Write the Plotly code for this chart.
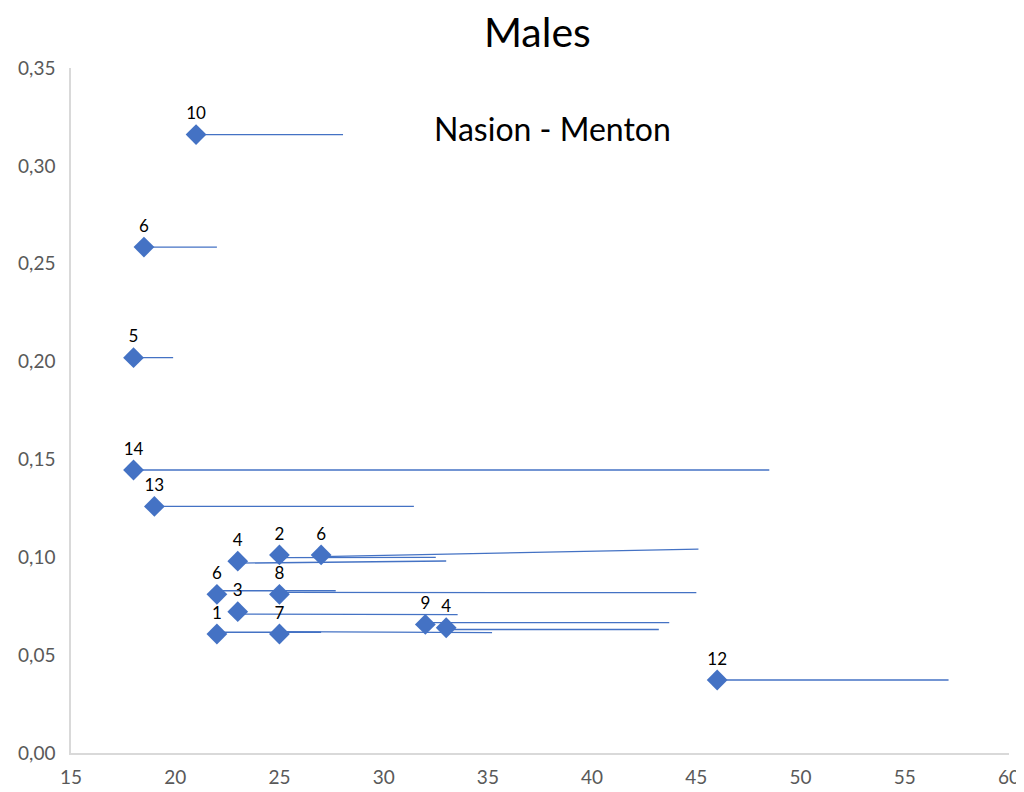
import plotly.graph_objects as go

# Point labels (sample sizes), positions and the end of each horizontal segment
labels = ["10", "6", "5", "14", "13", "4", "2", "6", "6", "8", "3", "1", "7", "9", "4", "12"]
x_vals = [21.0, 18.5, 18.0, 18.0, 19.0, 23.0, 25.0, 27.0, 22.0, 25.0, 23.0, 22.0, 25.0, 32.0, 33.0, 46.0]
y_vals = [0.316, 0.2585, 0.202, 0.1446, 0.126, 0.098, 0.1012, 0.1012, 0.0811, 0.0811, 0.0722, 0.0608, 0.0608, 0.0657, 0.0640, 0.0373]
line_y_start = [0.316, 0.2585, 0.202, 0.1446, 0.126, 0.0970, 0.0998, 0.1003, 0.0829, 0.0821, 0.0710, 0.0617, 0.0620, 0.0666, 0.0631, 0.0373]
line_x_end = [28.05, 22.0, 19.9, 48.5, 31.45, 33.0, 32.5, 45.1, 27.7, 45.0, 33.55, 27.0, 35.2, 43.7, 43.2, 57.1]
line_y_end = [0.316, 0.2585, 0.202, 0.1446, 0.126, 0.0981, 0.1000, 0.1042, 0.0829, 0.0819, 0.0707, 0.0617, 0.0615, 0.0666, 0.0631, 0.0373]

x_ticks = [15, 20, 25, 30, 35, 40, 45, 50, 55, 60]
y_ticks = [0.0, 0.05, 0.10, 0.15, 0.20, 0.25, 0.30, 0.35]

BLUE = "#4472C4"
FONT = "Lato"

fig = go.Figure()

for i in range(len(labels)):
    fig.add_trace(go.Scatter(
        x=[x_vals[i], line_x_end[i]],
        y=[line_y_start[i], line_y_end[i]],
        mode="lines",
        line=dict(color=BLUE, width=1.3),
        showlegend=False,
        hoverinfo="skip",
    ))

fig.add_trace(go.Scatter(
    x=x_vals,
    y=y_vals,
    mode="markers+text",
    text=labels,
    textposition="top center",
    textfont=dict(family=FONT, size=17, color="#000000"),
    marker=dict(symbol="diamond", size=16, color=BLUE),
    showlegend=False,
))

fig.add_annotation(
    x=38.1, y=0.319, xref="x", yref="y",
    text="Nasion - Menton", showarrow=False,
    font=dict(family=FONT, size=32, color="#000000"),
)

fig.update_layout(
    width=1016, height=784,
    separators=", ",
    paper_bgcolor="white", plot_bgcolor="white",
    margin=dict(l=63, r=15, t=60, b=39),
    title=dict(text="Males", x=0.521, xanchor="center", y=0.969, yanchor="middle",
               font=dict(family=FONT, size=41, color="#000000")),
    font=dict(family=FONT),
)

fig.update_xaxes(
    range=[15, 60], tickvals=x_ticks, ticktext=[str(t) for t in x_ticks],
    showgrid=False, zeroline=False, showline=True, linecolor="#D9D9D9", linewidth=1.5,
    ticks="", tickfont=dict(family=FONT, size=19, color="#595959"), ticklabelstandoff=6,
    automargin=False,
)
fig.update_yaxes(
    range=[0, 0.35], tickvals=y_ticks, tickformat=".2f",
    showgrid=False, zeroline=False, showline=True, linecolor="#D9D9D9", linewidth=1.5,
    ticks="", tickfont=dict(family=FONT, size=19, color="#595959"), ticklabelstandoff=10,
    automargin=False,
)

fig.write_html("out.html")
